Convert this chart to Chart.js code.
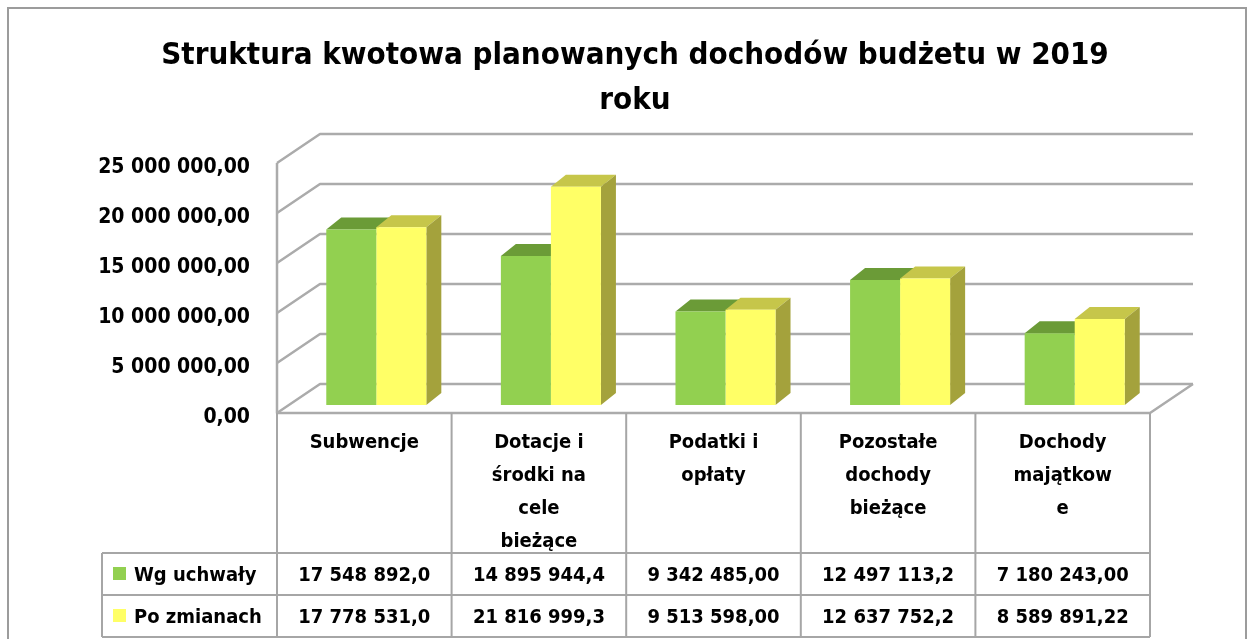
<!DOCTYPE html>
<html>
<head>
<meta charset="utf-8">
<script src="https://cdn.jsdelivr.net/npm/chart.js@4.4.1/dist/chart.umd.min.js"></script>
<style>
    html, body { margin: 0; padding: 0; background: #fff; }
</style>
</head>
<body>
<canvas id="budgetChart" width="1250" height="639"></canvas>
<script>
const categories = [
    ['Subwencje'],
    ['Dotacje i', 'środki na', 'cele', 'bieżące'],
    ['Podatki i', 'opłaty'],
    ['Pozostałe', 'dochody', 'bieżące'],
    ['Dochody', 'majątkow', 'e']
];
const seriesNames = ['Wg uchwały', 'Po zmianach'];
const plannedValues = [17548892.0, 14895944.4, 9342485.00, 12497113.2, 7180243.00];
const changedValues = [17778531.0, 21816999.3, 9513598.00, 12637752.2, 8589891.22];
const plannedText = ['17 548 892,0', '14 895 944,4', '9 342 485,00', '12 497 113,2', '7 180 243,00'];
const changedText = ['17 778 531,0', '21 816 999,3', '9 513 598,00', '12 637 752,2', '8 589 891,22'];
const titleLines = ['Struktura kwotowa planowanych dochodów budżetu w 2019', 'roku'];
const yMax = 25000000;
const yStep = 5000000;

const font = '"DejaVu Sans Condensed", "Liberation Sans Narrow", "Liberation Sans", sans-serif';
const faceColors = ['#92d050', '#ffff66'];
const topColors = ['#6b9b37', '#c6c64a'];
const sideColors = ['#5e8a2e', '#a4a23c'];

// pseudo 3D offsets (walls and bars)
const wallFront = 8, wallBack = -21, wallDx = 43, frontShift = -12;
const barDx = 15, barDy = -12;

function formatPl(v) {
    const parts = v.toFixed(2).split('.');
    return parts[0].replace(/\B(?=(\d{3})+(?!\d))/g, ' ') + ',' + parts[1];
}

const box3d = {
    id: 'box3d',
    beforeDatasetsDraw(chart) {
        const {ctx, chartArea: ca, scales: {y}} = chart;
        const fx0 = ca.left + frontShift, fx1 = ca.right + frontShift;
        const bx0 = fx0 + wallDx, bx1 = fx1 + wallDx;
        ctx.save();
        ctx.strokeStyle = '#ababab';
        ctx.lineWidth = 2.5;
        ctx.lineJoin = 'round';
        for (let v = 0; v <= yMax; v += yStep) {
            const yb = y.getPixelForValue(v);
            ctx.beginPath();
            ctx.moveTo(fx0, yb + wallFront);
            ctx.lineTo(bx0, yb + wallBack);
            ctx.lineTo(bx1, yb + wallBack);
            ctx.stroke();
        }
        const y0 = y.getPixelForValue(0);
        ctx.beginPath();
        ctx.moveTo(fx0, y.getPixelForValue(yMax) + wallFront);
        ctx.lineTo(fx0, y0 + wallFront);
        ctx.lineTo(fx1, y0 + wallFront);
        ctx.lineTo(bx1, y0 + wallBack);
        ctx.stroke();

        // top and side faces of the bars
        chart.data.datasets.forEach((ds, di) => {
            const meta = chart.getDatasetMeta(di);
            meta.data.forEach(bar => {
                const x0 = bar.x - bar.width / 2, x1 = bar.x + bar.width / 2;
                const top = bar.y, bottom = bar.base;
                ctx.fillStyle = topColors[di];
                ctx.beginPath();
                ctx.moveTo(x0, top);
                ctx.lineTo(x1, top);
                ctx.lineTo(x1 + barDx, top + barDy);
                ctx.lineTo(x0 + barDx, top + barDy);
                ctx.closePath();
                ctx.fill();
                if (di === chart.data.datasets.length - 1) {
                    ctx.fillStyle = sideColors[di];
                    ctx.beginPath();
                    ctx.moveTo(x1, top);
                    ctx.lineTo(x1 + barDx, top + barDy);
                    ctx.lineTo(x1 + barDx, bottom + barDy);
                    ctx.lineTo(x1, bottom);
                    ctx.closePath();
                    ctx.fill();
                }
            });
        });
        ctx.restore();
    },
    afterDraw(chart) {
        const {ctx, chartArea: ca, scales: {y}} = chart;
        const fx0 = ca.left + frontShift, fx1 = ca.right + frontShift;
        const colW = (ca.right - ca.left) / categories.length;
        const tTop = y.getPixelForValue(0) + wallFront;
        const headH = 140, rowH = 42, legLeft = 102;
        const r1 = tTop + headH, r2 = r1 + rowH, r3 = r2 + rowH;

        ctx.save();
        // outer frame
        ctx.strokeStyle = '#9c9c9c';
        ctx.lineWidth = 2;
        ctx.strokeRect(8, 8, 1238, 700);

        // title, centred on the frame
        ctx.fillStyle = '#000';
        ctx.font = 'bold 31px ' + font;
        ctx.textAlign = 'center';
        ctx.textBaseline = 'middle';
        titleLines.forEach((t, i) => ctx.fillText(t, 635, 56 + i * 45));

        ctx.strokeStyle = '#a6a6a6';
        ctx.lineWidth = 2;
        ctx.beginPath();
        for (let i = 0; i <= categories.length; i++) {
            const x = fx0 + i * colW;
            ctx.moveTo(x, tTop);
            ctx.lineTo(x, r3);
        }
        [r1, r2, r3].forEach(yy => {
            ctx.moveTo(legLeft, yy);
            ctx.lineTo(fx1, yy);
        });
        ctx.moveTo(legLeft, r1);
        ctx.lineTo(legLeft, r3);
        ctx.stroke();

        ctx.font = 'bold 20px ' + font;
        categories.forEach((lines, i) => {
            const cx = fx0 + (i + 0.5) * colW;
            lines.forEach((t, li) => ctx.fillText(t, cx, tTop + 30 + li * 33));
            ctx.fillText(plannedText[i], cx, r1 + rowH / 2 + 2);
            ctx.fillText(changedText[i], cx, r2 + rowH / 2 + 2);
        });

        // legend keys in the table
        ctx.textAlign = 'left';
        [r1, r2].forEach((yy, si) => {
            ctx.fillStyle = faceColors[si];
            ctx.fillRect(legLeft + 11, yy + 14, 13, 13);
            ctx.fillStyle = '#000';
            ctx.fillText(seriesNames[si], legLeft + 32, yy + rowH / 2 + 2);
        });
        ctx.restore();
    }
};

new Chart(document.getElementById('budgetChart'), {
    type: 'bar',
    data: {
        labels: categories,
        datasets: [
            { label: seriesNames[0], data: plannedValues, backgroundColor: faceColors[0], borderWidth: 0 },
            { label: seriesNames[1], data: changedValues, backgroundColor: faceColors[1], borderWidth: 0 }
        ]
    },
    options: {
        responsive: false,
        animation: false,
        layout: { padding: { left: 20, right: 88, top: 155, bottom: 234 } },
        datasets: { bar: { categoryPercentage: 0.573, barPercentage: 1 } },
        scales: {
            x: { display: false },
            y: {
                min: 0,
                max: yMax,
                afterFit: scale => { scale.width = 269; },
                grid: { display: false, drawTicks: false },
                border: { display: false },
                ticks: {
                    stepSize: yStep,
                    padding: 39,
                    labelOffset: 13,
                    color: '#000',
                    font: { family: font, size: 21, weight: 'bold' },
                    callback: v => formatPl(v)
                }
            }
        },
        plugins: {
            legend: { display: false },
            tooltip: { enabled: false },
            title: { display: false }
        }
    },
    plugins: [box3d]
});
</script>
</body>
</html>
